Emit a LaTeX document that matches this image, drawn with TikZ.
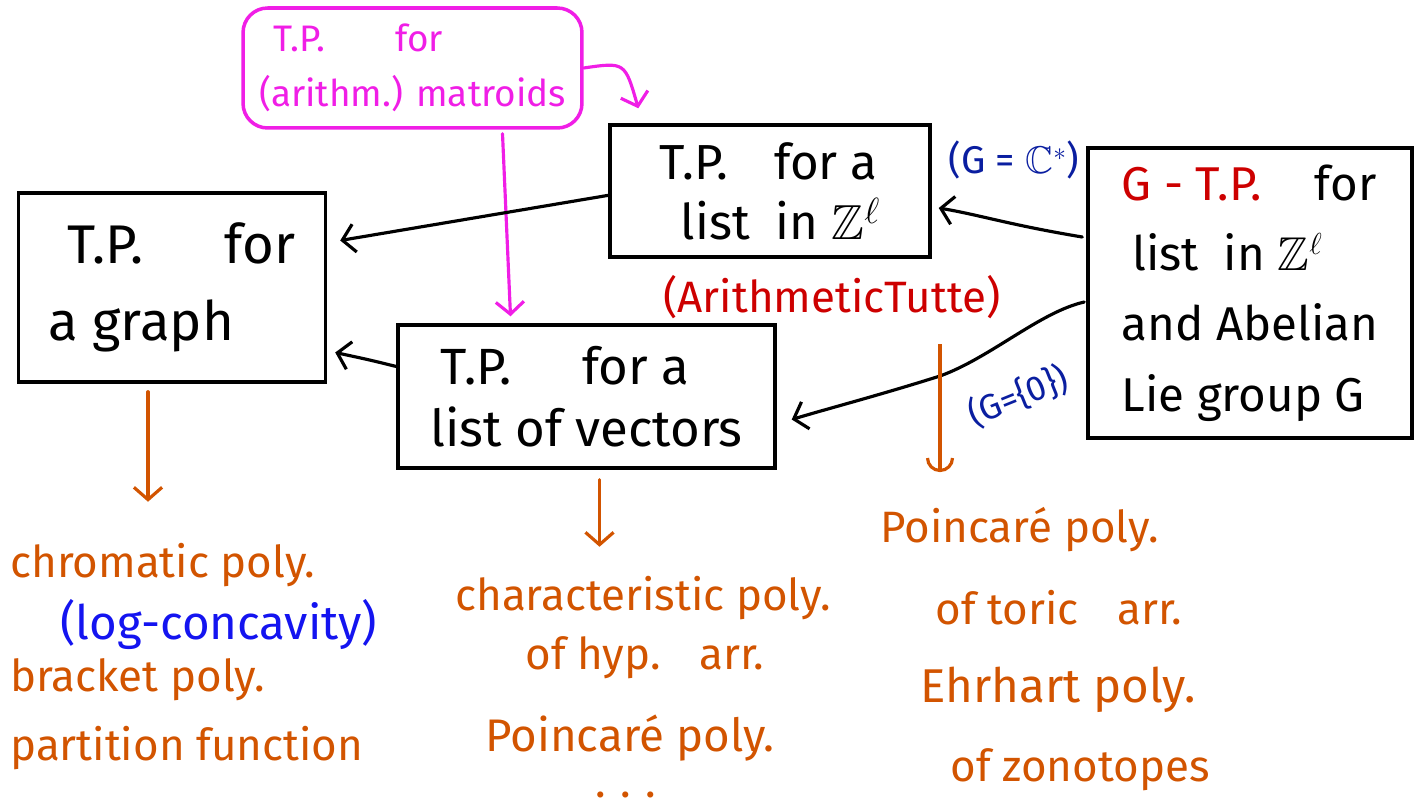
\documentclass[tikz,border=0pt]{standalone}
\usepackage{amssymb}
\usepackage{fontspec}
\setmainfont{Fira Sans}
\usetikzlibrary{arrows.meta,calc}
\definecolor{orng}{RGB}{210,84,0}
\definecolor{mag}{RGB}{240,30,230}
\definecolor{dblue}{RGB}{10,30,160}
\definecolor{bblue}{RGB}{20,20,240}
\definecolor{dred}{RGB}{205,0,0}
\begin{document}
\begin{tikzpicture}[x=0.02cm,y=-0.02cm,
  box/.style={draw=black,line width=2pt,inner sep=0pt,align=left},
  barb/.style={-{Straight Barb[length=7pt,width=16pt,line width=1.8pt]}},
  conn/.style={line width=1.8pt,barb,line cap=round},
  oconn/.style={conn,draw=orng},
  otext/.style={text=orng,font=\fontsize{25}{30}\selectfont,anchor=west,inner sep=0pt},
]
\useasboundingbox (0,0) rectangle (1419,807);

% boxes
\node[box,draw=mag,text=mag,rounded corners=14pt,minimum width=6.78cm,minimum height=2.4cm,
      font=\fontsize{21}{31}\selectfont] (mag) at (412.5,68)
      {\hspace{8pt}T.P.\hspace{40pt}for\\(arithm.) matroids};
\node[box,minimum width=6.4cm,minimum height=2.64cm,font=\fontsize{28}{34}\selectfont]
      (zlist) at (770,191) {T.P.\hspace{26pt}for a\\\hspace{12pt}list\ \ in $\mathbb{Z}^{\ell}$};
\node[box,minimum width=6.14cm,minimum height=3.78cm,font=\fontsize{31}{44}\selectfont]
      (graph) at (172,287.5) {\hspace{11pt}T.P.\hspace{46pt}for\\a graph};
\node[box,minimum width=7.54cm,minimum height=2.86cm,font=\fontsize{29}{35}\selectfont]
      (vectors) at (586.5,396.5) {\hspace{6pt}T.P.\hspace{40pt}for a\\list of vectors};
\node[box,minimum width=6.48cm,minimum height=5.8cm,font=\fontsize{27}{40}\selectfont]
      (gtp) at (1250,293) {{\color{dred}G - T.P.}\hspace{30pt}for\\\hspace{6pt}list\ \ in $\mathbb{Z}^{\ell}$\\and Abelian\\Lie group G};

% labels
\node[text=dred,font=\fontsize{25}{30}\selectfont,inner sep=0pt] (arith) at (832,297) {(ArithmeticTutte)};
\node[text=dblue,font=\fontsize{22}{26}\selectfont,inner sep=0pt] (gc) at (1014,160) {(G = $\mathbb{C}^{*}$)};
\node[text=dblue,font=\fontsize{20}{24}\selectfont,inner sep=0pt,rotate=22] (g0) at (1018,396) {(G=\{0\})};

% connectors
\draw[conn,draw=mag] (mag.east) .. controls (625,62) .. ($(zlist.north west)+(30,-15)$);
\draw[conn,draw=mag] ($(mag.south)+(90,4)$) -- ($(vectors.north)+(-76,-7)$);
\draw[conn] ($(zlist.west)+(2,4)$) -- ($(graph.east)+(13,-47)$);
\draw[conn] ($(vectors.west)+(0,-30)$) .. controls (370,360) .. ($(graph.east)+(8,65)$);
\draw[conn] ($(gtp.west)+(-4,-56)$) .. controls (1010,225) and (980,215) .. ($(zlist.east)+(7,17)$);
\draw[conn] ($(gtp.west)+(-2,9)$) .. controls (1040,312) and (990,358) .. (940,376)
      .. controls (880,395) and (830,408) .. ($(vectors.east)+(15,23)$);

% orange arrows
\draw[oconn] ($(graph.south)+(-24,8)$) -- ++(0,110);
\draw[oconn] ($(vectors.south)+(13,10)$) -- ++(0,67);
\draw[line width=1.8pt,draw=orng,-{Arc Barb[length=8pt,width=16pt,line width=1.8pt]}]
      ($(arith.south)+(108,25)$) -- ++(0,128);

% orange text
\node[otext] (t1) at (10,565) {chromatic poly.};
\node[otext,text=bblue,font=\fontsize{27}{30}\selectfont] (t2) at (60,625) {(log-concavity)};
\node[otext] (t3) at (10,680) {bracket poly.};
\node[otext] (t4) at (10,748) {partition function};
\node[otext] (t5) at (455,598) {characteristic poly.};
\node[otext] (t6) at (525,658) {of hyp.\hspace{22pt}arr.};
\node[otext,font=\fontsize{26}{30}\selectfont] (t7) at (485,738) {Poincaré poly.};
\node[otext] (t8) at (595,795) {.\,\,.\,\,.};
\node[otext] (t9) at (880,530) {Poincaré poly.};
\node[otext] (t10) at (935,608) {of toric\hspace{22pt}arr.};
\node[otext,font=\fontsize{27}{30}\selectfont] (t11) at (920,690) {Ehrhart poly.};
\node[otext] (t12) at (950,770) {of zonotopes};
\end{tikzpicture}
\end{document}
